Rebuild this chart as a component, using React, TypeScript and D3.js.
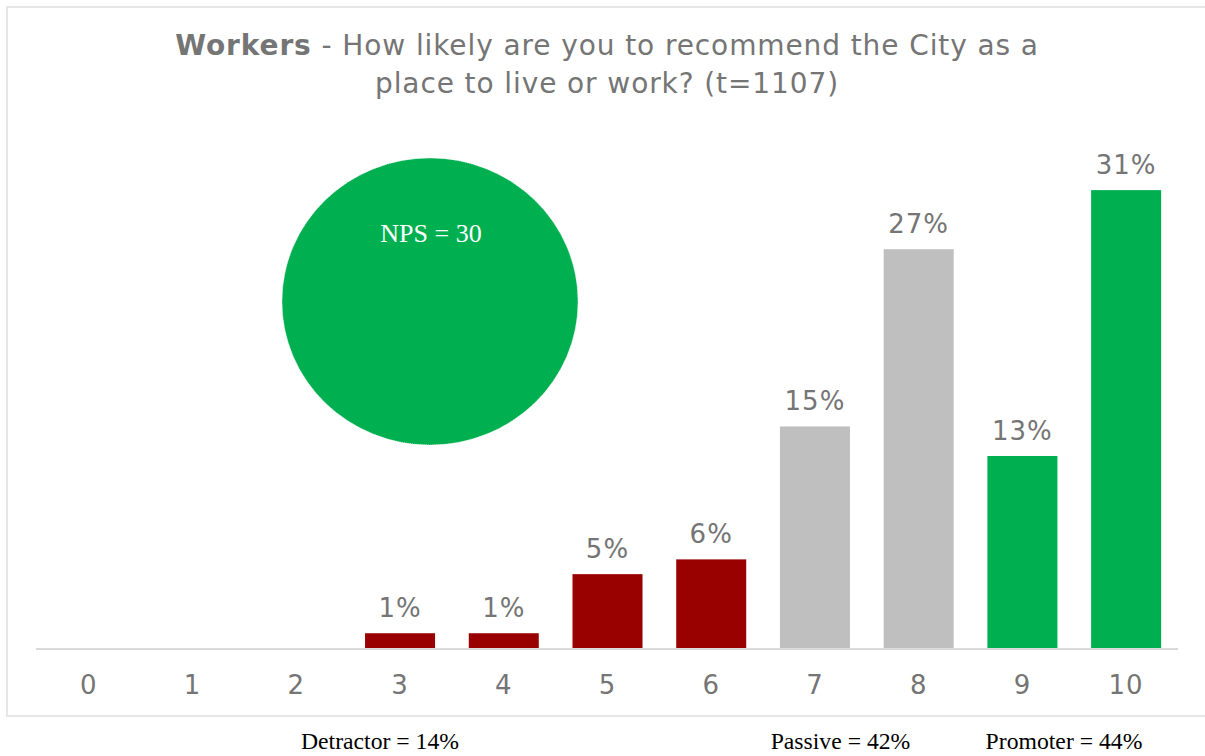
import React from "react";
import * as d3 from "d3";

const categories = ["0", "1", "2", "3", "4", "5", "6", "7", "8", "9", "10"];
const values = [0, 0, 0, 1, 1, 5, 6, 15, 27, 13, 31];
const groups = ["detractor", "detractor", "detractor", "detractor", "detractor", "detractor", "detractor", "passive", "passive", "promoter", "promoter"];
const groupColors: Record<string, string> = { detractor: "#990000", passive: "#bfbfbf", promoter: "#00b050" };
const summaryLabels = ["Detractor = 14%", "Passive = 42%", "Promoter = 44%"];
const npsLabel = "NPS = 30";
const titleBold = "Workers";
const titleLine1 = " - How likely are you to recommend the City as a";
const titleLine2 = "place to live or work? (t=1107)";

export default function App() {
  const W = 1205, H = 756;
  const x = d3.scaleBand<string>().domain(categories).range([37, 1178]).paddingInner(0.325).paddingOuter(0.1625);
  const y = d3.scaleLinear().domain([0, 35]).range([648, 648 - 35 * 14.77]);
  const textGray = "#757575";
  const sans = "Verdana, 'DejaVu Sans', sans-serif";
  const serif = "'Times New Roman', 'Liberation Serif', serif";
  return (
    <svg width={W} height={H} style={{ position: "absolute", left: 0, top: 0, background: "#fff" }}>
      <rect x={7} y={7} width={1210} height={709} fill="#fff" stroke="#e6e6e6" strokeWidth={2} />
      <text x={607} y={55} textAnchor="middle" fontFamily={sans} fontSize={28} letterSpacing={0.9} fill={textGray}>
        <tspan fontWeight="bold">{titleBold}</tspan>
        <tspan>{titleLine1}</tspan>
      </text>
      <text x={607} y={93} textAnchor="middle" fontFamily={sans} fontSize={28} letterSpacing={0.9} fill={textGray}>
        {titleLine2}
      </text>
      <ellipse cx={430} cy={301.5} rx={148} ry={143.5} fill="#00b050" stroke="#e8f5ec" strokeWidth={0.8} strokeDasharray="1 1" />
      <text x={431} y={242} textAnchor="middle" fontFamily={serif} fontSize={26} fill="#ffffff">{npsLabel}</text>
      {categories.map((c, i) => (
        <g key={c}>
          {values[i] > 0 && (
            <rect x={x(c)!} y={y(values[i])} width={x.bandwidth()} height={y(0) - y(values[i])} fill={groupColors[groups[i]]} />
          )}
          {values[i] > 0 && (
            <text x={x(c)! + x.bandwidth() / 2} y={y(values[i]) - 16} textAnchor="middle" fontFamily={sans} fontSize={26} letterSpacing={1} fill={textGray}>
              {Math.round(values[i])}%
            </text>
          )}
          <text x={x(c)! + x.bandwidth() / 2} y={694} textAnchor="middle" fontFamily={sans} fontSize={26} letterSpacing={1} fill={textGray}>{c}</text>
        </g>
      ))}
      <line x1={36} x2={1178} y1={649} y2={649} stroke="#d9d9d9" strokeWidth={2} />
      <text x={380} y={749} textAnchor="middle" fontFamily={serif} fontSize={23.7} fill="#000">{summaryLabels[0]}</text>
      <text x={840.5} y={749} textAnchor="middle" fontFamily={serif} fontSize={23.7} fill="#000">{summaryLabels[1]}</text>
      <text x={1064} y={749} textAnchor="middle" fontFamily={serif} fontSize={23.7} fill="#000">{summaryLabels[2]}</text>
    </svg>
  );
}
